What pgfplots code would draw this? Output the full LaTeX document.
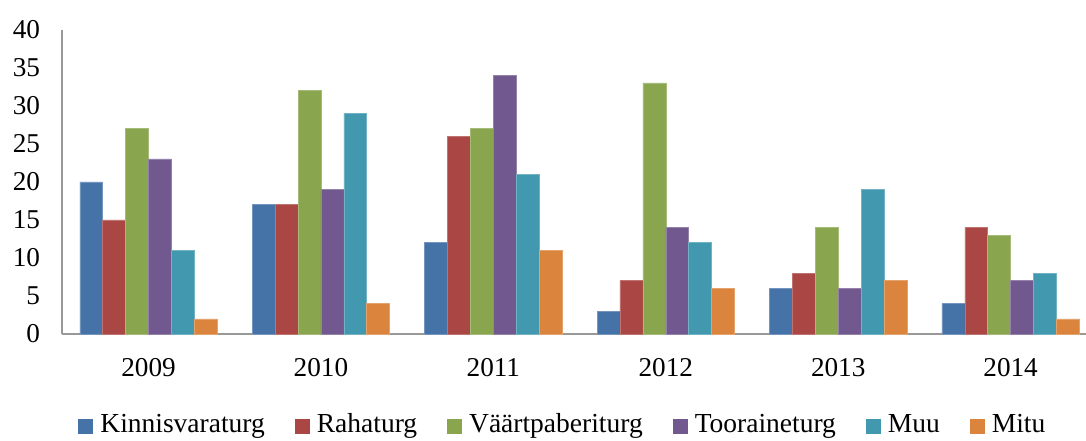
\documentclass[border=0pt]{standalone}
\usepackage{pgfplots}
\pgfplotsset{compat=1.18}
\usepackage{fontspec}
\setmainfont{Liberation Serif}
\definecolor{cA}{HTML}{4572A7}
\definecolor{cB}{HTML}{AA4643}
\definecolor{cC}{HTML}{89A54E}
\definecolor{cD}{HTML}{71588F}
\definecolor{cE}{HTML}{4198AF}
\definecolor{cF}{HTML}{DB843D}
\begin{document}
\begin{tikzpicture}[font=\fontsize{27.2}{31}\selectfont]
\useasboundingbox (0,0) rectangle (1086pt,440pt);
\begin{axis}[
  at={(62.3pt,106pt)}, anchor=south west,
  scale only axis, width=1023.7pt, height=304.5pt,
  ybar=0pt, bar width=22.9pt,
  xmin=-0.5, xmax=5.437, ymin=0, ymax=40,
  enlargelimits=false,
  axis x line=bottom, axis y line=left,
  axis line style={draw=black!40, line width=1.8pt, -},
  major tick length=0pt,
  xtick={0,...,5},
  xticklabels={2009,2010,2011,2012,2013,2014},
  ytick={0,5,...,40},
  /pgf/number format/assume math mode=true,
  tick label style={font=\fontsize{27.2}{31}\selectfont},
  yticklabel style={anchor=east, inner sep=0pt, xshift=-22pt},
  xticklabel style={anchor=base, inner sep=0pt, yshift=-42.5pt},
  clip=false,
  legend columns=6,
  legend style={at={(0.488,-0.2956)}, anchor=center, draw=none, fill=none,
    inner sep=0pt, font=\fontsize{27.5}{31}\selectfont,
    nodes={inner sep=0pt, anchor=base west},
    /tikz/every odd column/.append style={column sep=7pt},
    /tikz/every even column/.append style={column sep=30pt}},
  legend image code/.code={\fill[#1, draw=none] (0pt,-1pt) rectangle (15pt,14pt);},
]
\addplot[fill=cA, draw=cA!75!white, line width=0.5pt] coordinates {(0,20) (1,17) (2,12) (3,3) (4,6) (5,4)};
\addplot[fill=cB, draw=cB!75!white, line width=0.5pt] coordinates {(0,15) (1,17) (2,26) (3,7) (4,8) (5,14)};
\addplot[fill=cC, draw=cC!75!white, line width=0.5pt] coordinates {(0,27) (1,32) (2,27) (3,33) (4,14) (5,13)};
\addplot[fill=cD, draw=cD!75!white, line width=0.5pt] coordinates {(0,23) (1,19) (2,34) (3,14) (4,6) (5,7)};
\addplot[fill=cE, draw=cE!75!white, line width=0.5pt] coordinates {(0,11) (1,29) (2,21) (3,12) (4,19) (5,8)};
\addplot[fill=cF, draw=cF!75!white, line width=0.5pt] coordinates {(0,2) (1,4) (2,11) (3,6) (4,7) (5,2)};
\legend{Kinnisvaraturg,Rahaturg,Väärtpaberiturg,Tooraineturg,Muu,Mitu}
\end{axis}
\end{tikzpicture}
\end{document}
